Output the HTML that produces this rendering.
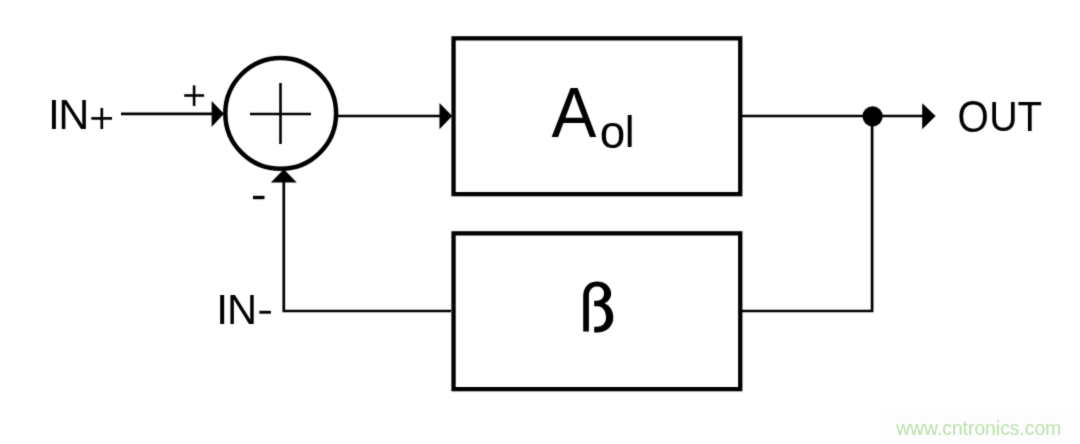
<!DOCTYPE html>
<html><head><meta charset="utf-8">
<style>
html,body{margin:0;padding:0;background:#fff;width:1080px;height:444px;overflow:hidden}
svg{display:block;position:absolute;left:0;top:0;will-change:transform}
text{font-family:"Liberation Sans",sans-serif}
</style></head>
<body>
<svg width="1080" height="444" viewBox="0 0 1080 444">
<defs><filter id="bl" x="0" y="0" width="1080" height="444" filterUnits="userSpaceOnUse"><feConvolveMatrix order="3" kernelMatrix="0.01917 0.10012 0.01917 0.10012 0.52283 0.10012 0.01917 0.10012 0.01917" edgeMode="none"/></filter></defs>
<g filter="url(#bl)">
<rect x="879.8" y="413.9" width="200.2" height="30.1" fill="#fdfdfd"/>
<g fill="none" stroke="#000">
  <line x1="121" y1="113.9" x2="213" y2="113.9" stroke-width="2.7"/>
  <circle cx="280.7" cy="113.4" r="55.4" stroke-width="4.5"/>
  <line x1="250" y1="114" x2="311" y2="114" stroke-width="2.6"/>
  <line x1="280.5" y1="83" x2="280.5" y2="144" stroke-width="2.6"/>
  <line x1="338" y1="116" x2="441" y2="116" stroke-width="2.7"/>
  <rect x="453.55" y="38.35" width="286.7" height="155.8" stroke-width="4.3"/>
  <line x1="742" y1="116" x2="924" y2="116" stroke-width="2.7"/>
  <polyline points="872.1,116 872.1,311 742,311" stroke-width="2.7"/>
  <rect x="453.55" y="233.35" width="286.7" height="155.8" stroke-width="4.3"/>
  <polyline points="451,311 283.8,311 283.8,181" stroke-width="2.7"/>
  <line x1="184.2" y1="95.5" x2="204.2" y2="95.5" stroke-width="2.6"/>
  <line x1="194.1" y1="85.4" x2="194.1" y2="105.9" stroke-width="2.6"/>
  <line x1="91.3" y1="118.4" x2="112" y2="118.4" stroke-width="2.7"/>
  <line x1="101.8" y1="108" x2="101.8" y2="129" stroke-width="2.7"/>
</g>
<path fill="#000" d="M583.2,331.6 L583.2,296 C583.2,287 589,281.4 597,281.4 C605.5,281.4 611.1,287 611.1,293.5 C611.1,298 608.5,301.5 604.5,303.3 C610,305.5 613.3,311 613.3,317.5 C613.3,326.5 606,332.5 597,332.5 L594.2,332.5 L594.2,326.8 L597,326.8 C602.5,326.8 606,323 606,317.5 C606,311 602.5,306.3 597.5,306.3 L594.2,306.3 L594.2,300.8 L596.5,300.8 C601,300.8 604,297.5 604,293.5 C604,289 601,286.4 597,286.4 C592,286.4 588.9,290 588.9,296 L588.9,331.6 Z"/>
<g fill="#000">
  <polygon points="211.6,100.9 224,113.7 211.6,126.9"/>
  <polygon points="439.5,103.0 452.2,116.1 439.5,129.3"/>
  <polygon points="922.2,103.2 935.6,116.1 922.2,129.3"/>
  <polygon points="270.8,182.5 283.8,169.2 296.8,182.5"/>
  <circle cx="872.6" cy="116.3" r="10.1"/>
  <rect x="253" y="195.8" width="11.5" height="3.4"/>
  <rect x="259.3" y="310.8" width="11.6" height="2.9"/>
</g>
<text x="896.2" y="434.8" font-size="19.3" fill="#b8e0a9" style="font-family:'Liberation Sans',sans-serif">www.cntronics.com</text>

<text transform="matrix(1.0000,0,0,1.0000,47.93,128.50)" font-size="42.60" fill="#000">I</text>
<text transform="matrix(1.0128,0,0,1.0000,58.26,128.50)" font-size="42.60" fill="#000">N</text>
<text transform="matrix(1.0000,0,0,1.0000,216.13,323.70)" font-size="42.60" fill="#000">I</text>
<text transform="matrix(0.9792,0,0,1.0000,226.98,323.70)" font-size="42.60" fill="#000">N</text>
<text transform="matrix(0.9457,0,0,1.0500,957.39,131.80)" font-size="42.60" fill="#000">O</text>
<text transform="matrix(0.9260,0,0,1.0200,989.16,131.34)" font-size="42.60" fill="#000">U</text>
<text transform="matrix(0.9466,0,0,1.0000,1017.39,130.70)" font-size="42.60" fill="#000">T</text>
<text transform="matrix(0.9465,0,0,1.0000,551.47,136.70)" font-size="71.22" fill="#000">A</text>
<text transform="matrix(1.0112,0,0,1.0000,599.77,147.66)" font-size="45.45" fill="#000">o</text>
<text transform="matrix(1.0000,0,0,1.0000,624.85,147.20)" font-size="44.44" fill="#000">l</text>
</g>
</svg>
</body></html>
